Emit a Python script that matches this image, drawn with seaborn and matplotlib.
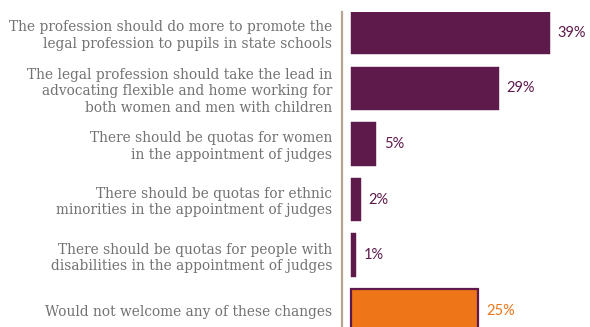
import matplotlib
matplotlib.use("Agg")
import matplotlib.pyplot as plt
import seaborn as sns
import pandas as pd

categories = [
    "The profession should do more to promote the\nlegal profession to pupils in state schools",
    "The legal profession should take the lead in\nadvocating flexible and home working for\nboth women and men with children",
    "There should be quotas for women\nin the appointment of judges",
    "There should be quotas for ethnic\nminorities in the appointment of judges",
    "There should be quotas for people with\ndisabilities in the appointment of judges",
    "Would not welcome any of these changes",
]
values = [39, 29, 5, 2, 1, 25]
groups = ["change", "change", "change", "change", "change", "none"]

PURPLE = "#5e1a4b"
ORANGE = "#ee7518"
LABEL_GREY = "#727272"
SPINE = "#b4a491"

df = pd.DataFrame({"option": categories, "share": values, "group": groups})

sns.set_theme(style="white")
plt.rcParams["font.family"] = ["DejaVu Sans"]

fig = plt.figure(figsize=(5.9, 3.27), dpi=100)
ax = fig.add_axes([342 / 590, 0.0, 248 / 590, (327 - 12) / 327])

sns.barplot(
    data=df, x="share", y="option", hue="group",
    palette={"change": PURPLE, "none": ORANGE},
    orient="h", width=0.775, dodge=False, legend=False,
    saturation=1, ax=ax,
)

# outline the "no change" bar in the brand purple
for patch, g in zip(ax.patches, df["group"]):
    patch.set_edgecolor(PURPLE)
    patch.set_linewidth(1.6 if g == "none" else 0.3)

ax.set_xlim(-1.76, 46.9)
ax.set_ylim(5.297, -0.378)

for i, (v, g) in enumerate(zip(values, groups)):
    ax.text(v + 1.5, i, f"{v}%", va="center", ha="left",
            fontsize=10.5, family="Lato",
            color=ORANGE if g == "none" else PURPLE)

for s in ["top", "right", "bottom"]:
    ax.spines[s].set_visible(False)
ax.spines["left"].set_color(SPINE)
ax.spines["left"].set_linewidth(1.6)
ax.spines["left"].set_position(("data", -1.76))

ax.set_xticks([])
ax.set_xlabel("")
ax.set_ylabel("")
ax.tick_params(axis="y", length=0, pad=7)
for lbl in ax.get_yticklabels():
    lbl.set_family("DejaVu Serif")
    lbl.set_fontsize(9.9)
    lbl.set_color(LABEL_GREY)
    lbl.set_linespacing(1.22)
    lbl.set_multialignment("right")

fig.savefig("out.png", dpi=100)
